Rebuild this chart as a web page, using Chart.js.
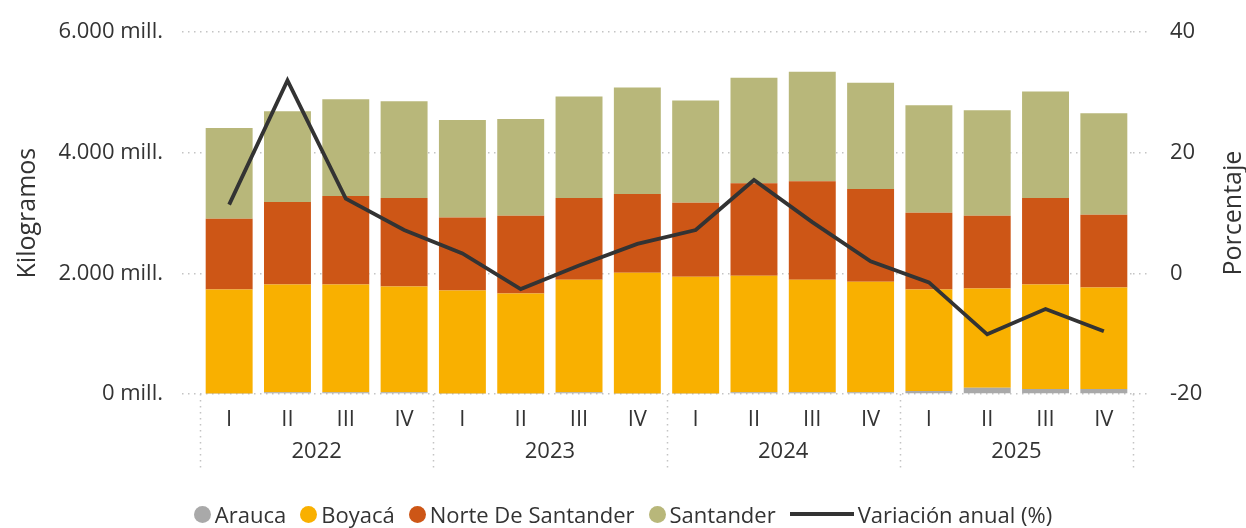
<!DOCTYPE html>
<html>
<head>
<meta charset="utf-8">
<script src="https://cdn.jsdelivr.net/npm/chart.js@4"></script>
<style>
  html, body { margin: 0; padding: 0; background: #fff; }
  #wrap { position: relative; width: 1246px; height: 528px; }
  #legend {
    position: absolute; left: 0; right: 0; top: 499px;
    display: flex; justify-content: center; align-items: center;
    font-family: "Open Sans", sans-serif; font-size: 22px; color: #333;
  }
  .item { display: flex; align-items: center; margin-right: 14px; }
  .item:last-child { margin-right: 0; }
  .dot { width: 17px; height: 17px; border-radius: 50%; margin-right: 4px; }
  .ln { width: 64px; height: 4px; background: #333; margin-right: 4px; }
</style>
</head>
<body>
<div id="wrap">
  <canvas id="c" width="1246" height="528"></canvas>
  <div id="legend"></div>
</div>
<script>
const quarters = ['I', 'II', 'III', 'IV', 'I', 'II', 'III', 'IV', 'I', 'II', 'III', 'IV', 'I', 'II', 'III', 'IV'];
const years = ['2022', '2023', '2024', '2025'];

// millones de kg
const arauca = [8, 30, 30, 30, 10, 10, 30, 10, 10, 30, 30, 30, 50, 105, 82, 82];
const boyaca = [1724, 1784, 1784, 1751, 1706, 1657, 1865, 2000, 1934, 1931, 1865, 1833, 1682, 1643, 1732, 1683];
const norte = [1176, 1372, 1470, 1471, 1209, 1291, 1357, 1307, 1226, 1536, 1634, 1536, 1275, 1210, 1438, 1209];
const santander = [1504, 1504, 1602, 1601, 1617, 1601, 1683, 1765, 1699, 1748, 1814, 1764, 1781, 1748, 1764, 1683];
// %
const variacion = [11.4, 32.0, 12.4, 7.2, 3.3, -2.6, 1.3, 4.9, 7.2, 15.5, 8.5, 2.0, -1.5, -10.1, -5.9, -9.6];

const FONT = '"Open Sans", sans-serif';
const TXT = '#333333';
const GRID = '#c4c4c4';

function fmt(v) {
  return String(v).replace(/\B(?=(\d{3})+(?!\d))/g, '.') + ' mill.';
}

const yearAxis = {
  id: 'yearAxis',
  afterDraw(chart) {
    const ctx = chart.ctx;
    const x = chart.scales.x;
    const area = chart.chartArea;
    const half = (x.getPixelForValue(1) - x.getPixelForValue(0)) / 2;
    ctx.save();
    ctx.strokeStyle = GRID;
    ctx.lineWidth = 1.5;
    ctx.setLineDash([1.5, 4.5]);
    for (let g = 0; g <= years.length; g++) {
      const px = g < years.length ? x.getPixelForValue(g * 4) - half : x.getPixelForValue(g * 4 - 1) + half;
      ctx.beginPath();
      ctx.moveTo(Math.round(px) + 0.5, area.bottom);
      ctx.lineTo(Math.round(px) + 0.5, 472);
      ctx.stroke();
    }
    ctx.setLineDash([]);
    ctx.fillStyle = TXT;
    ctx.font = '22px ' + FONT;
    ctx.textAlign = 'center';
    ctx.textBaseline = 'middle';
    years.forEach((y, g) => {
      const cx = (x.getPixelForValue(g * 4) + x.getPixelForValue(g * 4 + 3)) / 2;
      ctx.fillText(y, cx, 452);
    });
    // titulo eje derecho
    ctx.translate(1234, (area.top + area.bottom) / 2);
    ctx.rotate(-Math.PI / 2);
    ctx.font = '25px ' + FONT;
    ctx.fillText('Porcentaje', 0, 0);
    ctx.restore();
  }
};

const chart = new Chart(document.getElementById('c'), {
  data: {
    labels: quarters,
    datasets: [
      { type: 'line', label: 'Variación anual (%)', data: variacion, yAxisID: 'y1', borderColor: '#333333', borderWidth: 3.8, pointRadius: 0, tension: 0, order: 0 },
      { type: 'bar', label: 'Arauca', data: arauca, backgroundColor: '#a9a9a9', yAxisID: 'y', order: 1 },
      { type: 'bar', label: 'Boyacá', data: boyaca, backgroundColor: '#f9b000', yAxisID: 'y', order: 1 },
      { type: 'bar', label: 'Norte De Santander', data: norte, backgroundColor: '#cd5616', yAxisID: 'y', order: 1 },
      { type: 'bar', label: 'Santander', data: santander, backgroundColor: '#b8b77a', yAxisID: 'y', order: 1 }
    ]
  },
  options: {
    responsive: false,
    animation: false,
    layout: { padding: { top: 27, bottom: 48, left: 0, right: 0 } },
    datasets: { bar: { categoryPercentage: 1, barPercentage: 0.805 } },
    plugins: { legend: { display: false }, tooltip: { enabled: false } },
    scales: {
      x: {
        stacked: true,
        grid: { display: false },
        border: { display: false },
        ticks: { color: TXT, font: { family: FONT, size: 22 }, padding: 5, maxRotation: 0 },
        afterFit(s) { s.height = 86; }
      },
      y: {
        stacked: true,
        position: 'left',
        min: 0, max: 6000,
        ticks: { stepSize: 2000, color: TXT, font: { family: FONT, size: 22 }, padding: 19, callback: v => fmt(v) },
        grid: { color: GRID, lineWidth: 1.5, tickLength: 18, tickBorderDash: [1.5, 4.5], tickColor: GRID },
        border: { display: false, dash: [1.5, 4.5] },
        title: { display: true, text: 'Kilogramos', color: TXT, font: { family: FONT, size: 25 }, padding: { top: 13, bottom: 0 } },
        afterFit(s) { s.width = 200; }
      },
      y1: {
        position: 'right',
        min: -20, max: 40,
        ticks: { stepSize: 20, color: TXT, font: { family: FONT, size: 22 }, padding: 19 },
        grid: { drawOnChartArea: false, color: GRID, lineWidth: 1.5, tickLength: 18, tickBorderDash: [1.5, 4.5], tickColor: GRID },
        border: { display: false },
        afterFit(s) { s.width = 113; }
      }
    }
  },
  plugins: [yearAxis]
});

// leyenda
const legend = document.getElementById('legend');
chart.data.datasets.slice(1).concat(chart.data.datasets[0]).forEach(ds => {
  const it = document.createElement('div');
  it.className = 'item';
  const mk = document.createElement('span');
  if (ds.type === 'line') {
    mk.className = 'ln';
  } else {
    mk.className = 'dot';
    mk.style.background = ds.backgroundColor;
  }
  it.appendChild(mk);
  it.appendChild(document.createTextNode(ds.label));
  legend.appendChild(it);
});
</script>
</body>
</html>
